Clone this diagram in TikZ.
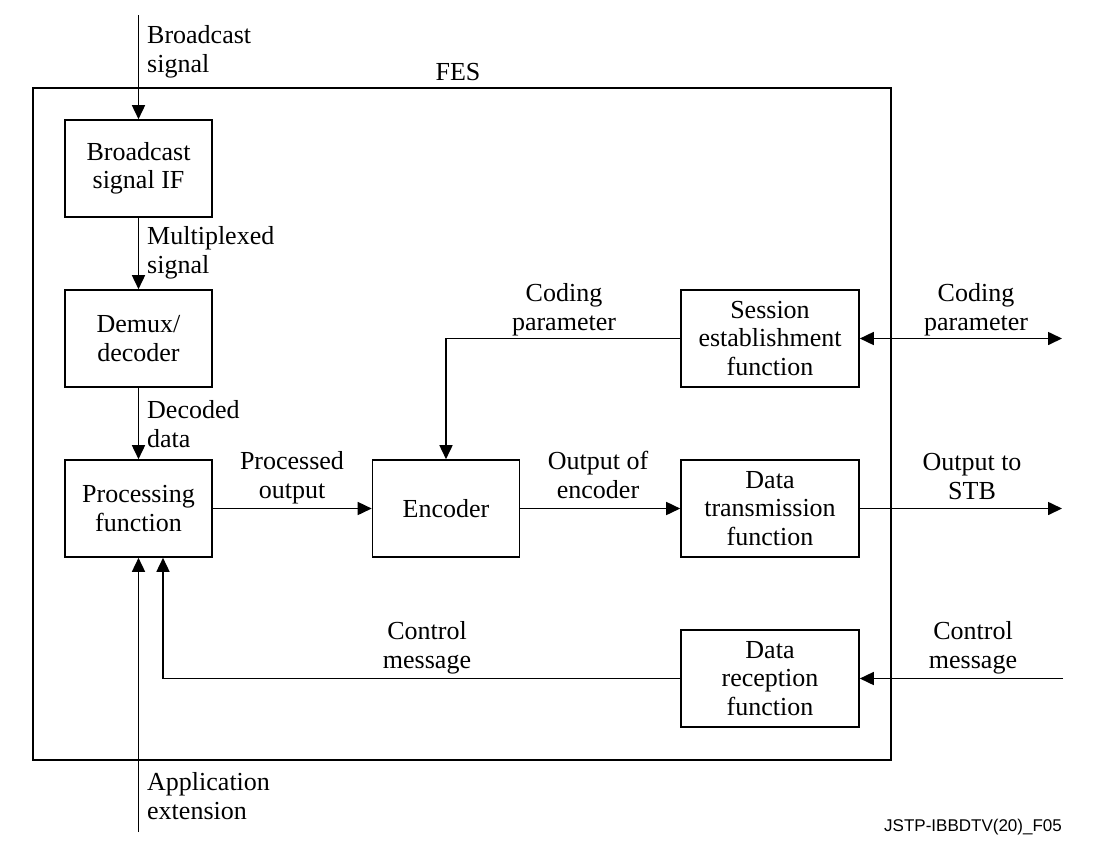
\documentclass[tikz,border=0pt]{standalone}
\usepackage{fontspec}
\setmainfont{Liberation Serif}
\newfontfamily\tagfont{Liberation Sans}
\usepackage{tikz}
\usetikzlibrary{arrows.meta}
\tikzstyle{block} = [rectangle, 
minimum width=147pt, 
minimum height=97pt,
inner sep=2pt,
text centered, 
align=center,
draw=black, 
line width=1.6pt]
\tikzstyle{wideblock} = [block, 
minimum width=178pt]
\tikzstyle{arrow} = [line width=1.6pt,-{Triangle[length=14pt,width=13pt]}]
\tikzstyle{dblarrow} = [line width=1.6pt,{Triangle[length=14pt,width=13pt]}-{Triangle[length=14pt,width=13pt]}]
\tikzstyle{sigtext} = [inner sep=0pt, 
align=left, 
anchor=base west]
\tikzstyle{midtext} = [inner sep=0pt, 
align=center, 
anchor=base]

\begin{document}
\begin{tikzpicture}[x=1pt,y=-1pt,node distance=170pt,font=\fontsize{26}{28.5}\selectfont]
\useasboundingbox (0,0) rectangle (1094,852);

\node (fes) [draw, line width=1.5pt, minimum width=858pt, minimum height=672pt, inner sep=0pt] at (462,424) {};
\node (festext) [midtext] at (458,80) {FES};

\node (bsif) [block] at (138.5,168.5) {Broadcast\\signal IF};
\node (demux) [block, below of=bsif] {Demux/\\decoder};
\node (proc) [block, below of=demux] {Processing\\function};
\node (enc) [block, right of=proc, xshift=137.5pt] {Encoder};
\node (dtx) [wideblock, right of=enc, xshift=154pt] {Data\\transmission\\function};
\node (ses) [wideblock, above of=dtx] {Session\\establishment\\function};
\node (drx) [wideblock, below of=dtx] {Data\\reception\\function};

\coordinate (bsin) at (138.5,15);
\coordinate (cpout) at (1062,338.5);
\coordinate (stbout) at (1062,508.5);
\coordinate (ctlin) at (1063,678.5);
\coordinate (appin) at (138.5,832);

\draw [arrow] (bsin) -- (bsif.north);
\draw [arrow] (bsif) -- (demux);
\draw [arrow] (demux) -- (proc);
\draw [arrow] (proc) -- (enc);
\draw [arrow] (ses.west) -| (enc.north);
\draw [arrow] (enc) -- (dtx);
\draw [dblarrow] (ses.east) -- (cpout);
\draw [arrow] (dtx.east) -- (stbout);
\draw [arrow] (ctlin) -- (drx.east);
\draw [arrow] (drx.west) -| ([xshift=24.5pt]proc.south);
\draw [arrow] (appin) -- (proc.south);

% signal names
\node (bstext) [sigtext] at (147,72) {Broadcast\\signal};
\node (mtext) [sigtext] at (147,273) {Multiplexed\\signal};
\node (dtext) [sigtext] at (147,447) {Decoded\\data};
\node (ptext) [midtext] at (292,498) {Processed\\output};
\node (cptext) [midtext] at (564,330) {Coding\\parameter};
\node (cpouttext) [midtext] at (976,330) {Coding\\parameter};
\node (oetext) [midtext] at (598,498) {Output of\\encoder};
\node (stbtext) [midtext] at (972,499) {Output to\\STB};
\node (cmtext) [midtext] at (427,668) {Control\\message};
\node (cmouttext) [midtext] at (973,668) {Control\\message};
\node (apptext) [sigtext] at (147,819) {Application\\extension};
\node (tag) [inner sep=0pt, anchor=base east, font=\tagfont\fontsize{17}{19}\selectfont] at (1062,831) {JSTP-IBBDTV(20)\_F05};

\end{tikzpicture}
\end{document}
